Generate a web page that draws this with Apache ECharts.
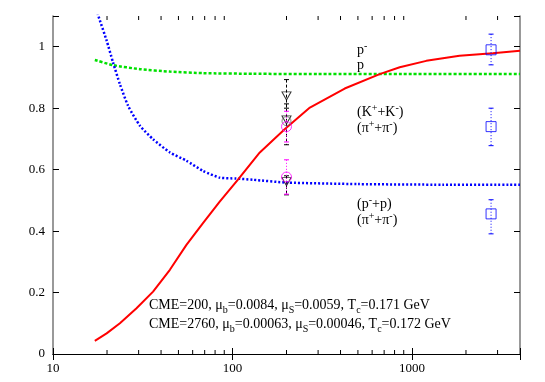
<!DOCTYPE html>
<html>
<head>
<meta charset="utf-8">
<script src="https://cdn.jsdelivr.net/npm/echarts@6/dist/echarts.min.js"></script>
<style>
html, body { margin: 0; padding: 0; background: #fff; }
#main { width: 545px; height: 382px; }
</style>
</head>
<body>
<div id="main"></div>
<script>
// model curves
var redX = [17.1, 19.9, 23.6, 29.2, 36.1, 44.8, 55.4, 68.5, 84.9, 107, 142, 196, 270, 422, 661, 855, 1202, 1841, 2818, 4000];
var redY = [0.043, 0.067, 0.100, 0.149, 0.203, 0.274, 0.355, 0.426, 0.496, 0.567, 0.656, 0.732, 0.802, 0.864, 0.911, 0.933, 0.954, 0.971, 0.979, 0.987];

var greenX = [17.1, 21.6, 30.5, 44.8, 68.5, 130, 300, 1000, 4000];
var greenY = [0.957, 0.940, 0.927, 0.919, 0.914, 0.912, 0.911, 0.911, 0.911];

var blueX = [17.1, 17.9, 19.9, 21.6, 23.6, 26.2, 30.5, 36.1, 44.8, 55.4, 68.5, 84.9, 105, 130, 200, 500, 1500, 4000];
var blueY = [1.135, 1.100, 1.020, 0.949, 0.878, 0.808, 0.743, 0.699, 0.656, 0.629, 0.596, 0.574, 0.571, 0.567, 0.558, 0.553, 0.551, 0.551];

// data points: [x, y, low, high]
var blackTri = [[200, 0.840, 0.800, 0.893], [200, 0.762, 0.681, 0.814], [200, 0.561, 0.518, 0.580]];
var blackCirc = [[200, 0.758]];
var magCirc = [[200, 0.740, 0.690, 0.790], [200, 0.576, 0.520, 0.632]];
var blueSq = [[2760, 0.990, 0.941, 1.041], [2760, 0.740, 0.678, 0.800], [2760, 0.456, 0.391, 0.502]];

var minorTicks = [20, 30, 40, 50, 60, 70, 80, 90, 200, 300, 400, 500, 600, 700, 800, 900, 2000, 3000];
var xLabels = [10, 100, 1000];
var yMax = 1.1;

function zip(a, b) {
  var out = [];
  for (var i = 0; i < a.length; i++) out.push([a[i], b[i]]);
  return out;
}

function errBars(color, dash) {
  return function (params, api) {
    var top = api.coord([api.value(0), api.value(3)]);
    var bot = api.coord([api.value(0), api.value(2)]);
    return {
      type: 'group',
      children: [
        { type: 'line', shape: { x1: top[0], y1: top[1], x2: bot[0], y2: bot[1] }, style: { stroke: color, lineWidth: 1, lineDash: dash } },
        { type: 'line', shape: { x1: top[0] - 2.5, y1: top[1], x2: top[0] + 2.5, y2: top[1] }, style: { stroke: color, lineWidth: 1 } },
        { type: 'line', shape: { x1: bot[0] - 2.5, y1: bot[1], x2: bot[0] + 2.5, y2: bot[1] }, style: { stroke: color, lineWidth: 1 } }
      ]
    };
  };
}

function minorTick(params, api) {
  var b = api.coord([api.value(0), 0]);
  var t = api.coord([api.value(0), yMax]);
  return {
    type: 'group',
    children: [
      { type: 'line', shape: { x1: b[0], y1: b[1], x2: b[0], y2: b[1] - 4 }, style: { stroke: '#000', lineWidth: 1 } },
      { type: 'line', shape: { x1: t[0], y1: t[1], x2: t[0], y2: t[1] + 4 }, style: { stroke: '#000', lineWidth: 1 } }
    ]
  };
}

var serif = 'Liberation Serif';
var chart = echarts.init(document.getElementById('main'));

var axisCommon = {
  axisTick: { inside: true, length: 6, lineStyle: { color: '#000' } },
  splitLine: { show: false }
};

var rich = {
  n: { fontFamily: serif, fontSize: 14, color: '#000', lineHeight: 16, verticalAlign: 'bottom' },
  sup: { fontFamily: serif, fontSize: 10, color: '#000', lineHeight: 16, verticalAlign: 'top' },
  sub: { fontFamily: serif, fontSize: 10, color: '#000', lineHeight: 10, verticalAlign: 'bottom', padding: [0, 0, -3, 0] }
};

function txt(x, y, s) {
  return {
    type: 'text', x: x, y: y,
    style: { text: s, rich: rich, font: '14px ' + serif, fill: '#000', verticalAlign: 'middle' }
  };
}

var option = {
  animation: false,
  backgroundColor: '#fff',
  grid: { left: 53, right: 25, top: 16, bottom: 28 },
  xAxis: [
    Object.assign({
      type: 'log', logBase: 10, min: 10, max: 4000, position: 'bottom',
      axisLine: { lineStyle: { color: '#000', width: 1 } },
      axisLabel: {
        fontFamily: serif, fontSize: 13, color: '#000', margin: 8,
        formatter: function (v) { return xLabels.indexOf(Math.round(v)) >= 0 ? String(Math.round(v)) : ''; }
      }
    }, axisCommon),
    Object.assign({
      type: 'log', logBase: 10, min: 10, max: 4000, position: 'top',
      axisLine: { lineStyle: { color: '#000', width: 1 } },
      axisLabel: { show: false }
    }, axisCommon)
  ],
  yAxis: [
    Object.assign({
      type: 'value', min: 0, max: yMax, interval: 0.2, position: 'left',
      axisLine: { show: true, lineStyle: { color: '#777', width: 1.5 } },
      axisLabel: {
        fontFamily: serif, fontSize: 13, color: '#000', margin: 8,
        formatter: function (v) { return v > 1.05 ? '' : String(+v.toFixed(1)); }
      }
    }, axisCommon),
    Object.assign({
      type: 'value', min: 0, max: yMax, interval: 0.2, position: 'right',
      axisLine: { show: true, lineStyle: { color: '#777', width: 1.5 } },
      axisLabel: { show: false }
    }, axisCommon)
  ],
  series: [
    {
      type: 'line', data: zip(greenX, greenY), showSymbol: false, smooth: 0.2,
      lineStyle: { color: '#00e000', width: 2.5, type: [3, 2] }
    },
    {
      type: 'line', data: zip(blueX, blueY), showSymbol: false, smooth: 0.2,
      lineStyle: { color: '#0000ff', width: 2.5, type: [2, 2] }
    },
    {
      type: 'line', data: zip(redX, redY), showSymbol: false, smooth: false,
      lineStyle: { color: '#ff0000', width: 2 }
    },
    { type: 'custom', data: blackTri, renderItem: errBars('#000', [3, 2]), z: 5 },
    { type: 'custom', data: magCirc, renderItem: errBars('#ff00ff', [1, 2]), z: 5 },
    { type: 'custom', data: blueSq, renderItem: errBars('#0000ff', [1, 2]), z: 5 },
    {
      type: 'scatter', data: blackTri, symbol: 'path://M0,0 L10,0 L5,9 Z', symbolSize: [9, 8],
      itemStyle: { color: 'none', borderColor: '#000', borderWidth: 1 }, z: 6
    },
    {
      type: 'scatter', data: blackCirc, symbol: 'circle', symbolSize: 9,
      itemStyle: { color: 'none', borderColor: '#666', borderWidth: 1 }, z: 6
    },
    {
      type: 'scatter', data: magCirc, symbol: 'circle', symbolSize: 10,
      itemStyle: { color: 'none', borderColor: '#ff00ff', borderWidth: 1 }, z: 6
    },
    {
      type: 'scatter', data: blueSq, symbol: 'rect', symbolSize: 10,
      itemStyle: { color: 'none', borderColor: '#0000ff', borderWidth: 1 }, z: 6
    },
    {
      // minor log ticks, bottom and top
      type: 'custom', z: 7, renderItem: minorTick,
      data: minorTicks.map(function (v) { return [v, 0.5, 0.5, 0.5]; })
    }
  ],
  graphic: [
    txt(357, 49, '{n|p}{sup|-}'),
    txt(357, 64, '{n|p}'),
    txt(357, 111, '{n|(K}{sup|+}{n|+K}{sup|-}{n|)}'),
    txt(357, 127, '{n|(π}{sup|+}{n|+π}{sup|-}{n|)}'),
    txt(357, 203, '{n|(p}{sup|-}{n|+p)}'),
    txt(357, 219, '{n|(π}{sup|+}{n|+π}{sup|-}{n|)}'),
    txt(149, 304, '{n|CME=200, μ}{sub|b}{n|=0.0084, μ}{sub|S}{n|=0.0059, T}{sub|c}{n|=0.171 GeV}'),
    txt(149, 323, '{n|CME=2760, μ}{sub|b}{n|=0.00063, μ}{sub|S}{n|=0.00046, T}{sub|c}{n|=0.172 GeV}')
  ]
};

chart.setOption(option);
</script>
</body>
</html>
